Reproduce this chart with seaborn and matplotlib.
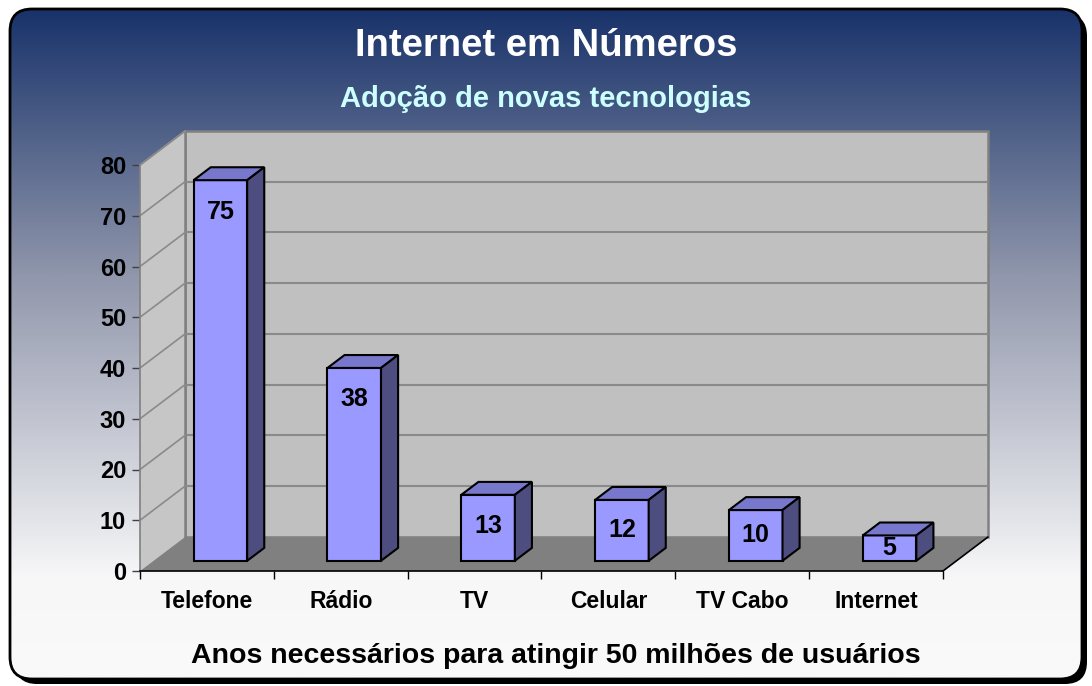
import numpy as np
import pandas as pd
import matplotlib
matplotlib.use("Agg")
import matplotlib.pyplot as plt
import seaborn as sns
from matplotlib.colors import LinearSegmentedColormap
from matplotlib.patches import FancyBboxPatch, Polygon

# data
categories = ["Telefone", "Rádio", "TV", "Celular", "TV Cabo", "Internet"]
years = [75, 38, 13, 12, 10, 5]
y_ticks = [0, 10, 20, 30, 40, 50, 60, 70, 80]

title = "Internet em Números"
subtitle = "Adoção de novas tecnologias"
x_title = "Anos necessários para atingir 50 milhões de usuários"

sns.set_style("white")
plt.rcParams["font.family"] = ["Liberation Sans", "DejaVu Sans"]
plt.rcParams["text.color"] = "black"
plt.rcParams["xtick.color"] = "black"
plt.rcParams["ytick.color"] = "black"

# 3D look: full depth of the floor in data units, bars sit between 0.30 and 0.68 of it
DX, DY = 0.336, 6.7
BAR_Z0, BAR_DEPTH = 0.30, 0.38

FRONT = "#9999FF"
TOP = "#7777CC"
SIDE = "#4D4D80"
WALL = "#C0C0C0"
FLOOR = "#808080"
GRID = "#8A8A8A"

fig = plt.figure(figsize=(10.92, 6.86), dpi=100)
fig.patch.set_facecolor("white")

# background frame with gradient
bg = fig.add_axes([0, 0, 1, 1])
bg.set_xlim(0, 1092)
bg.set_ylim(686, 0)
bg.axis("off")
box = dict(boxstyle="round,pad=0,rounding_size=22")
bg.add_patch(FancyBboxPatch((15, 14), 1072, 670, fc="black", ec="none", zorder=0, **box))
frame = FancyBboxPatch((10, 9), 1072, 670, fc="none", ec="black", lw=2, zorder=2, **box)
bg.add_patch(frame)
cmap = LinearSegmentedColormap.from_list(
    "bg", [(0, "#19336A"), (0.4, "#9197AC"), (0.85, "#F7F7F8"), (1, "#FAFAFA")])
grad = cmap(np.linspace(0, 1, 400))[:, None, :]
im = bg.imshow(grad, extent=[10, 1082, 679, 9], aspect="auto", zorder=1)
im.set_clip_path(frame)

# main chart (front plane)
ax = fig.add_axes([140 / 1092, 115 / 686, 803 / 1092, 406 / 686])
ax.patch.set_visible(False)

df = pd.DataFrame({"cat": categories, "val": years})
sns.barplot(data=df, x="cat", y="val", width=0.4, color=FRONT, saturation=1,
            edgecolor="black", linewidth=1.5, errorbar=None, ax=ax, zorder=4)
bars = list(ax.patches)

n = len(categories)
x0, x1 = -0.5, n - 0.5
ax.set_xlim(x0, x1)
ax.set_ylim(0, y_ticks[-1])
top = y_ticks[-1]

# walls and floor
ax.add_patch(Polygon([(x0 + DX, DY), (x1 + DX, DY), (x1 + DX, top + DY), (x0 + DX, top + DY)],
                     closed=True, fc=WALL, ec="#808080", lw=1.8, zorder=1, clip_on=False))
ax.add_patch(Polygon([(x0, 0), (x0, top), (x0 + DX, top + DY), (x0 + DX, DY)],
                     closed=True, fc="#C6C6C6", ec="none", zorder=1, clip_on=False))
ax.add_patch(Polygon([(x0, 0), (x1, 0), (x1 + DX, DY), (x0 + DX, DY)],
                     closed=True, fc=FLOOR, ec="none", zorder=2, clip_on=False))
ax.plot([x1, x1 + DX], [0, DY], color="black", lw=1.2, zorder=3, clip_on=False)
ax.plot([x0 + DX, x0 + DX], [DY, top + DY], color="#808080", lw=1.8, zorder=1.5, clip_on=False)
ax.plot([x0, x0 + DX], [top, top + DY], color=GRID, lw=1.2, zorder=1.5, clip_on=False)
for v in y_ticks[1:-1]:
    ax.plot([x0 + DX, x1 + DX], [v + DY, v + DY], color=GRID, lw=1.5, zorder=1.5, clip_on=False)
for v in y_ticks[1:]:
    ax.plot([x0, x0 + DX], [v, v + DY], color=GRID, lw=1.2, zorder=1.5, clip_on=False)

# 3D bars: shift front faces into depth, add top and side faces
bdx, bdy = BAR_DEPTH * DX, BAR_DEPTH * DY
for p, v in zip(bars, years):
    p.set_x(p.get_x() + BAR_Z0 * DX)
    p.set_y(BAR_Z0 * DY)
    p.set_clip_on(False)
    bx, by, w, h = p.get_x(), p.get_y(), p.get_width(), p.get_height()
    ax.add_patch(Polygon([(bx, by + h), (bx + w, by + h), (bx + w + bdx, by + h + bdy), (bx + bdx, by + h + bdy)],
                         closed=True, fc=TOP, ec="black", lw=1.5, zorder=4, clip_on=False))
    ax.add_patch(Polygon([(bx + w, by), (bx + w, by + h), (bx + w + bdx, by + h + bdy), (bx + w + bdx, by + bdy)],
                         closed=True, fc=SIDE, ec="black", lw=1.5, zorder=4, clip_on=False))
    ax.text(bx + w / 2, by + max(v - 6.2, v / 2), str(v), ha="center", va="center",
            fontsize=18, fontweight="bold", color="black", zorder=6)

# axes styling
for s in ["top", "right"]:
    ax.spines[s].set_visible(False)
ax.spines["left"].set_color("#808080")
ax.spines["left"].set_linewidth(1.2)
ax.spines["bottom"].set_color("black")
ax.spines["bottom"].set_linewidth(1.2)
ax.spines["left"].set_zorder(3)
ax.spines["bottom"].set_zorder(3)

ax.set_yticks(y_ticks)
ax.set_yticklabels([str(t) for t in y_ticks], fontsize=17, fontweight="bold")
ax.set_xticks(range(n))
ax.set_xticklabels(categories, fontsize=16.5, fontweight="bold")
ax.set_xticks(np.arange(x0, x1 + 0.01, 1), minor=True)
ax.tick_params(axis="y", left=True, length=6, width=1, color="#404040", pad=4, labelcolor="black")
ax.tick_params(axis="x", which="major", bottom=True, length=0, pad=14, labelcolor="black")
ax.tick_params(axis="x", which="minor", bottom=True, length=6, width=1, color="black")
ax.set_xlabel("")
ax.set_ylabel("")

fig.text(546 / 1092, 1 - 46 / 686, title, ha="center", va="center",
         fontsize=27.5, fontweight="bold", color="white")
fig.text(546 / 1092, 1 - 99 / 686, subtitle, ha="center", va="center",
         fontsize=21, fontweight="bold", color="#CCFFFF")
fig.text(556 / 1092, 1 - 656 / 686, x_title, ha="center", va="center",
         fontsize=20.5, fontweight="bold", color="black")

fig.savefig("out.png", dpi=100)
